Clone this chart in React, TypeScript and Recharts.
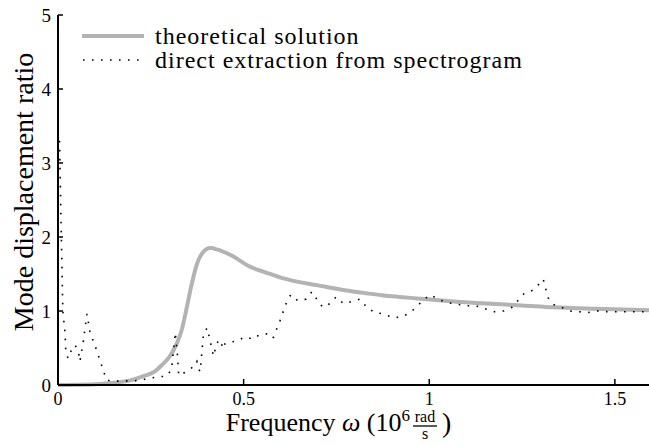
import { Legend, Line, LineChart, XAxis, YAxis } from "recharts";

// frequency in 10^6 rad/s, ratio
const theoryFreq = [
  0, 0.05, 0.1, 0.15, 0.2, 0.23, 0.26, 0.28, 0.3, 0.31, 0.32, 0.333, 0.347, 0.36,
  0.374, 0.39, 0.41, 0.43, 0.464, 0.517, 0.56, 0.607, 0.65, 0.697, 0.75, 0.787,
  0.83, 0.877, 0.92, 0.967, 1.05, 1.155, 1.25, 1.335, 1.45, 1.6,
];
const theoryRatio = [
  0, 0.003, 0.01, 0.03, 0.07, 0.12, 0.18, 0.27, 0.38, 0.46, 0.56, 0.74, 1.05, 1.36,
  1.63, 1.79, 1.85, 1.83, 1.76, 1.6, 1.52, 1.44, 1.39, 1.35, 1.3, 1.27, 1.24, 1.21,
  1.19, 1.17, 1.135, 1.1, 1.075, 1.05, 1.03, 1.01,
];

const specFreq = [
  0.004, 0.013, 0.019, 0.021, 0.027, 0.036, 0.046, 0.055, 0.059, 0.068, 0.078, 0.086,
  0.104, 0.122, 0.13, 0.145, 0.22, 0.243, 0.27, 0.293, 0.306, 0.316, 0.322, 0.325,
  0.342, 0.36, 0.374, 0.378, 0.383, 0.392, 0.402, 0.419, 0.428, 0.438, 0.444, 0.45,
  0.46, 0.48, 0.504, 0.525, 0.543, 0.562, 0.579, 0.598, 0.615, 0.627, 0.646, 0.668,
  0.684, 0.697, 0.713, 0.733, 0.749, 0.769, 0.793, 0.814, 0.83, 0.852, 0.877, 0.902,
  0.926, 0.949, 0.968, 0.987, 1.003, 1.027, 1.052, 1.076, 1.102, 1.127, 1.151, 1.175,
  1.2, 1.223, 1.256, 1.279, 1.297, 1.307, 1.32, 1.333, 1.356, 1.38, 1.404, 1.428,
  1.454, 1.48, 1.6,
];
const specRatio = [
  3.3, 1.0, 0.7, 0.45, 0.36, 0.47, 0.54, 0.45, 0.32, 0.58, 0.96, 0.72,
  0.47, 0.2, 0.07, 0.05, 0.06, 0.09, 0.11, 0.12, 0.21, 0.71, 0.39, 0.13,
  0.17, 0.23, 0.32, 0.22, 0.18, 0.7, 0.77, 0.39, 0.57, 0.61, 0.49, 0.56,
  0.58, 0.59, 0.65, 0.62, 0.68, 0.69, 0.63, 0.87, 1.11, 1.22, 1.14, 1.16,
  1.26, 1.16, 1.05, 1.1, 1.19, 1.1, 1.13, 1.16, 1.06, 0.98, 0.96, 0.91,
  0.92, 0.98, 1.07, 1.16, 1.22, 1.15, 1.11, 1.09, 1.07, 1.07, 1.03, 0.99,
  1.0, 1.05, 1.24, 1.28, 1.37, 1.43, 1.18, 1.09, 1.05, 1.0, 0.99, 0.98,
  1.0, 0.99, 0.99,
];

const xTicks = [0, 0.5, 1, 1.5];
const yTicks = [0, 1, 2, 3, 4, 5];

const theory = theoryFreq.map((w, i) => ({ w, r: theoryRatio[i] }));
const spectrogram = specFreq.map((w, i) => ({ w, r: specRatio[i] }));

const FONT = "Liberation Serif";
const GREY = "#b3b3b3";

function YTick({ x, y, payload }: any) {
  return (
    <g>
      <line x1={x} x2={x + 5} y1={y} y2={y} stroke="#000" strokeWidth={1.5} />
      <text x={x - 7} y={y} dy="0.35em" textAnchor="end" fontSize={19} fontFamily={FONT} fill="#000">
        {payload.value}
      </text>
    </g>
  );
}

function XTick({ x, y, payload }: any) {
  return (
    <g>
      <line x1={x} x2={x} y1={y} y2={y - 6} stroke="#000" strokeWidth={1.5} />
      <text x={x} y={y + 20} textAnchor="middle" fontSize={18} fontFamily={FONT} fill="#000">
        {payload.value}
      </text>
    </g>
  );
}

function FreqLabel({ viewBox }: any) {
  const x0 = viewBox?.x ?? 58;
  const y0 = viewBox?.y ?? 385;
  const base = y0 + 46;
  const fx = x0 + 354;
  return (
    <g fill="#000" fontFamily={FONT}>
      <text x={fx - 2} y={base} textAnchor="end" fontSize={26}>
        Frequency <tspan fontStyle="italic">ω</tspan> (10
        <tspan dy={-10} fontSize={17}>6</tspan>
      </text>
      <text x={fx + 13} y={base - 9} textAnchor="middle" fontSize={16}>
        rad
      </text>
      <line x1={fx + 1} x2={fx + 25} y1={base - 5} y2={base - 5} stroke="#000" strokeWidth={1.3} />
      <text x={fx + 13} y={base + 8} textAnchor="middle" fontSize={16}>
        s
      </text>
      <text x={fx + 30} y={base + 1} fontSize={28}>
        )
      </text>
    </g>
  );
}

function RatioLabel() {
  return (
    <text
      x={23}
      y={192}
      transform="rotate(-90 23 192)"
      textAnchor="middle"
      dominantBaseline="central"
      fontSize={28}
      fontFamily={FONT}
      fill="#000"
    >
      Mode displacement ratio
    </text>
  );
}

function LegendBox() {
  const row = { display: "flex", alignItems: "center", height: 24, whiteSpace: "nowrap" as const };
  return (
    <div style={{ fontFamily: FONT, fontSize: 24, letterSpacing: 1, color: "#000", lineHeight: "24px" }}>
      <div style={row}>
        <svg width={62} height={10} style={{ marginRight: 11 }}>
          <line x1={0} x2={62} y1={5} y2={5} stroke={GREY} strokeWidth={4} />
        </svg>
        theoretical solution
      </div>
      <div style={row}>
        <svg width={62} height={10} style={{ marginRight: 11 }}>
          <line x1={1} x2={62} y1={5} y2={5} stroke="#000" strokeWidth={1.6} strokeDasharray="1.6 7.4" />
        </svg>
        direct extraction from spectrogram
      </div>
    </div>
  );
}

export default function App() {
  return (
    <div style={{ position: "absolute", left: 0, top: 0, width: 649, height: 446, overflow: "hidden", background: "#fff" }}>
      <LineChart
        width={652}
        height={446}
        margin={{ top: 15, right: 0, bottom: 0, left: 0 }}
        style={{ fontFamily: FONT }}
      >
        <XAxis
          type="number"
          dataKey="w"
          domain={[0, 1.6]}
          ticks={xTicks}
          allowDataOverflow
          height={61}
          tickSize={0}
          tickMargin={0}
          tickLine={false}
          axisLine={{ stroke: "#000", strokeWidth: 2 }}
          tick={<XTick />}
          label={<FreqLabel />}
        />
        <YAxis
          type="number"
          dataKey="r"
          domain={[0, 5]}
          ticks={yTicks}
          width={58}
          tickSize={0}
          tickMargin={0}
          tickLine={false}
          axisLine={{ stroke: "#000", strokeWidth: 2 }}
          tick={<YTick />}
          label={<RatioLabel />}
        />
        <Legend
          layout="horizontal"
          verticalAlign="middle"
          align="center"
          content={<LegendBox />}
          wrapperStyle={{ position: "absolute", left: 82, top: 24, width: "auto", height: "auto" }}
        />
        <Line
          data={theory}
          dataKey="r"
          type="monotone"
          stroke={GREY}
          strokeWidth={4}
          dot={false}
          isAnimationActive={false}
        />
        <Line
          data={spectrogram}
          dataKey="r"
          type="linear"
          stroke="#000"
          strokeWidth={1.6}
          strokeDasharray="1.6 7.4"
          dot={false}
          isAnimationActive={false}
        />
      </LineChart>
    </div>
  );
}
